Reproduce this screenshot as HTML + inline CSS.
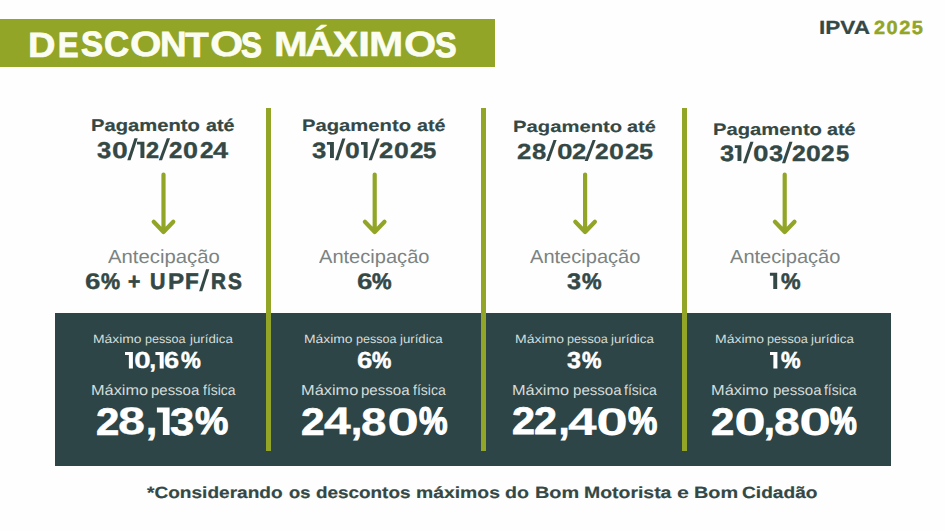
<!DOCTYPE html>
<html><head><meta charset="utf-8"><style>
html,body{margin:0;padding:0;}
body{width:945px;height:531px;position:relative;overflow:hidden;background:#fefefe;font-family:"Liberation Sans",sans-serif;}
.t{position:absolute;white-space:nowrap;transform-origin:0 0;text-rendering:geometricPrecision;}
.bar{position:absolute;left:0;top:19px;width:495px;height:48px;background:#92a526;}
.box{position:absolute;left:55px;top:313px;width:836px;height:153px;background:#2d4546;}
.vl{position:absolute;top:108px;width:5px;height:343px;background:#92a526;}
</style></head><body>
<div class="bar"></div>
<div class="box"></div>
<div class="vl" style="left:266px"></div>
<div class="vl" style="left:480.5px"></div>
<div class="vl" style="left:682px"></div>
<svg width="945" height="531" style="position:absolute;left:0;top:0" fill="none" stroke="#92a526" stroke-width="4.2" stroke-linecap="round" stroke-linejoin="round">
<path d="M163.5 174.5 V231.5 M153.7 221.8 L163.5 232 L173.3 221.8"/><path d="M374.7 174.5 V231.5 M364.9 221.8 L374.7 232 L384.5 221.8"/><path d="M585.1 174.5 V231.5 M575.3000000000001 221.8 L585.1 232 L594.9 221.8"/><path d="M784.7 174.5 V231.5 M774.9000000000001 221.8 L784.7 232 L794.5 221.8"/>
</svg>
<div class="t" style="left:28.34px;top:27.82px;font-size:35.06px;line-height:35.06px;font-weight:bold;color:#fbfdf2;transform:scaleX(1.0848);text-rendering:geometricPrecision;-webkit-text-stroke:0.66px currentColor;">D</div>
<div class="t" style="left:58.38px;top:27.78px;font-size:35.06px;line-height:35.06px;font-weight:bold;color:#fbfdf2;transform:scaleX(0.8732);text-rendering:geometricPrecision;-webkit-text-stroke:1.15px currentColor;">E</div>
<div class="t" style="left:80.73px;top:26.79px;font-size:35.06px;line-height:35.06px;font-weight:bold;color:#fbfdf2;transform:scaleX(0.9420);text-rendering:geometricPrecision;-webkit-text-stroke:0.99px currentColor;">S</div>
<div class="t" style="left:104.13px;top:26.79px;font-size:35.06px;line-height:35.06px;font-weight:bold;color:#fbfdf2;transform:scaleX(0.9932);text-rendering:geometricPrecision;-webkit-text-stroke:0.89px currentColor;">C</div>
<div class="t" style="left:129.59px;top:27.16px;font-size:35.06px;line-height:35.06px;font-weight:bold;color:#fbfdf2;transform:scaleX(1.1572);text-rendering:geometricPrecision;-webkit-text-stroke:0.53px currentColor;">O</div>
<div class="t" style="left:159.57px;top:26.79px;font-size:35.06px;line-height:35.06px;font-weight:bold;color:#fbfdf2;transform:scaleX(1.0497);text-rendering:geometricPrecision;-webkit-text-stroke:0.75px currentColor;">N</div>
<div class="t" style="left:185.12px;top:27.82px;font-size:35.06px;line-height:35.06px;font-weight:bold;color:#fbfdf2;transform:scaleX(1.1115);text-rendering:geometricPrecision;-webkit-text-stroke:0.63px currentColor;">T</div>
<div class="t" style="left:209.83px;top:27.16px;font-size:35.06px;line-height:35.06px;font-weight:bold;color:#fbfdf2;transform:scaleX(1.2240);text-rendering:geometricPrecision;-webkit-text-stroke:0.37px currentColor;">O</div>
<div class="t" style="left:240.51px;top:27.78px;font-size:35.06px;line-height:35.06px;font-weight:bold;color:#fbfdf2;transform:scaleX(0.8959);text-rendering:geometricPrecision;-webkit-text-stroke:1.11px currentColor;">S</div>
<div class="t" style="left:273.52px;top:27.16px;font-size:35.06px;line-height:35.06px;font-weight:bold;color:#fbfdf2;transform:scaleX(1.1575);text-rendering:geometricPrecision;-webkit-text-stroke:0.52px currentColor;">M</div>
<div class="t" style="left:305.45px;top:27.16px;font-size:35.06px;line-height:35.06px;font-weight:bold;color:#fbfdf2;transform:scaleX(1.1504);text-rendering:geometricPrecision;-webkit-text-stroke:0.50px currentColor;">Á</div>
<div class="t" style="left:333.24px;top:26.79px;font-size:35.06px;line-height:35.06px;font-weight:bold;color:#fbfdf2;transform:scaleX(1.0582);text-rendering:geometricPrecision;-webkit-text-stroke:0.77px currentColor;">X</div>
<div class="t" style="left:358.44px;top:27.16px;font-size:35.06px;line-height:35.06px;font-weight:bold;color:#fbfdf2;transform:scaleX(1.2614);text-rendering:geometricPrecision;-webkit-text-stroke:0.39px currentColor;">I</div>
<div class="t" style="left:369.49px;top:27.16px;font-size:35.06px;line-height:35.06px;font-weight:bold;color:#fbfdf2;transform:scaleX(1.1738);text-rendering:geometricPrecision;-webkit-text-stroke:0.47px currentColor;">M</div>
<div class="t" style="left:403.54px;top:27.16px;font-size:35.06px;line-height:35.06px;font-weight:bold;color:#fbfdf2;transform:scaleX(1.1837);text-rendering:geometricPrecision;-webkit-text-stroke:0.45px currentColor;">O</div>
<div class="t" style="left:435.17px;top:27.78px;font-size:35.06px;line-height:35.06px;font-weight:bold;color:#fbfdf2;transform:scaleX(0.9238);text-rendering:geometricPrecision;-webkit-text-stroke:1.05px currentColor;">S</div>
<div class="t" style="left:818.52px;top:19.22px;font-size:19.07px;line-height:19.07px;font-weight:bold;color:#344846;transform:scaleX(1.1847);text-rendering:geometricPrecision;-webkit-text-stroke:0.23px currentColor;">IPVA</div>
<div class="t" style="left:874.39px;top:18.72px;font-size:19.07px;line-height:19.07px;font-weight:bold;color:#92a526;transform:scaleX(1.0500);text-rendering:geometricPrecision;-webkit-text-stroke:0.41px currentColor;letter-spacing:1.374px;">2025</div>
<div class="t" style="left:91.33px;top:117.80px;font-size:16.96px;line-height:16.96px;font-weight:bold;color:#344846;transform:scaleX(1.1915);text-rendering:geometricPrecision;-webkit-text-stroke:0.19px currentColor;">Pagamento</div>
<div class="t" style="left:205.57px;top:117.80px;font-size:16.96px;line-height:16.96px;font-weight:bold;color:#344846;transform:scaleX(1.1586);text-rendering:geometricPrecision;-webkit-text-stroke:0.23px currentColor;">até</div>
<div class="t" style="left:302.39px;top:117.59px;font-size:16.64px;line-height:16.64px;font-weight:bold;color:#344846;transform:scaleX(1.2162);text-rendering:geometricPrecision;-webkit-text-stroke:0.15px currentColor;">Pagamento</div>
<div class="t" style="left:416.71px;top:117.59px;font-size:16.64px;line-height:16.64px;font-weight:bold;color:#344846;transform:scaleX(1.1860);text-rendering:geometricPrecision;-webkit-text-stroke:0.18px currentColor;">até</div>
<div class="t" style="left:513.20px;top:118.71px;font-size:16.19px;line-height:16.19px;font-weight:bold;color:#344846;transform:scaleX(1.2506);text-rendering:geometricPrecision;-webkit-text-stroke:0.11px currentColor;">Pagamento</div>
<div class="t" style="left:627.31px;top:118.71px;font-size:16.19px;line-height:16.19px;font-weight:bold;color:#344846;transform:scaleX(1.2250);text-rendering:geometricPrecision;-webkit-text-stroke:0.14px currentColor;">até</div>
<div class="t" style="left:713.27px;top:121.64px;font-size:16.59px;line-height:16.59px;font-weight:bold;color:#344846;transform:scaleX(1.2195);text-rendering:geometricPrecision;-webkit-text-stroke:0.15px currentColor;">Pagamento</div>
<div class="t" style="left:827.41px;top:121.64px;font-size:16.59px;line-height:16.59px;font-weight:bold;color:#344846;transform:scaleX(1.1917);text-rendering:geometricPrecision;-webkit-text-stroke:0.19px currentColor;">até</div>
<div class="t" style="left:97.34px;top:138.69px;font-size:22.86px;line-height:22.86px;font-weight:bold;color:#344846;transform:scaleX(1.1181);text-rendering:geometricPrecision;-webkit-text-stroke:0.40px currentColor;">3</div>
<div class="t" style="left:112.49px;top:138.53px;font-size:22.86px;line-height:22.86px;font-weight:bold;color:#344846;transform:scaleX(1.2443);text-rendering:geometricPrecision;-webkit-text-stroke:0.21px currentColor;">0</div>
<div class="t" style="left:146.44px;top:138.69px;font-size:22.86px;line-height:22.86px;font-weight:bold;color:#344846;transform:scaleX(1.0293);text-rendering:geometricPrecision;-webkit-text-stroke:0.48px currentColor;">2</div>
<div class="t" style="left:169.30px;top:138.69px;font-size:22.86px;line-height:22.86px;font-weight:bold;color:#344846;transform:scaleX(1.0515);text-rendering:geometricPrecision;-webkit-text-stroke:0.49px currentColor;">2</div>
<div class="t" style="left:183.23px;top:138.69px;font-size:22.86px;line-height:22.86px;font-weight:bold;color:#344846;transform:scaleX(1.1783);text-rendering:geometricPrecision;-webkit-text-stroke:0.30px currentColor;">0</div>
<div class="t" style="left:199.58px;top:138.69px;font-size:22.86px;line-height:22.86px;font-weight:bold;color:#344846;transform:scaleX(1.0614);text-rendering:geometricPrecision;-webkit-text-stroke:0.45px currentColor;">2</div>
<div class="t" style="left:213.41px;top:138.69px;font-size:22.86px;line-height:22.86px;font-weight:bold;color:#344846;transform:scaleX(1.1864);text-rendering:geometricPrecision;-webkit-text-stroke:0.27px currentColor;">4</div>
<div class="t" style="left:311.58px;top:139.73px;font-size:22.26px;line-height:22.26px;font-weight:bold;color:#344846;transform:scaleX(1.1536);text-rendering:geometricPrecision;-webkit-text-stroke:0.33px currentColor;">3</div>
<div class="t" style="left:344.78px;top:139.73px;font-size:22.26px;line-height:22.26px;font-weight:bold;color:#344846;transform:scaleX(1.1935);text-rendering:geometricPrecision;-webkit-text-stroke:0.28px currentColor;">0</div>
<div class="t" style="left:378.87px;top:139.73px;font-size:22.26px;line-height:22.26px;font-weight:bold;color:#344846;transform:scaleX(1.1521);text-rendering:geometricPrecision;-webkit-text-stroke:0.34px currentColor;">2</div>
<div class="t" style="left:393.78px;top:139.73px;font-size:22.26px;line-height:22.26px;font-weight:bold;color:#344846;transform:scaleX(1.1935);text-rendering:geometricPrecision;-webkit-text-stroke:0.28px currentColor;">0</div>
<div class="t" style="left:409.63px;top:139.73px;font-size:22.26px;line-height:22.26px;font-weight:bold;color:#344846;transform:scaleX(1.0906);text-rendering:geometricPrecision;-webkit-text-stroke:0.42px currentColor;">2</div>
<div class="t" style="left:423.04px;top:139.73px;font-size:22.26px;line-height:22.26px;font-weight:bold;color:#344846;transform:scaleX(1.0661);text-rendering:geometricPrecision;-webkit-text-stroke:0.44px currentColor;">5</div>
<div class="t" style="left:516.80px;top:140.81px;font-size:21.88px;line-height:21.88px;font-weight:bold;color:#344846;transform:scaleX(1.1787);text-rendering:geometricPrecision;-webkit-text-stroke:0.28px currentColor;">2</div>
<div class="t" style="left:531.58px;top:140.81px;font-size:21.88px;line-height:21.88px;font-weight:bold;color:#344846;transform:scaleX(1.1724);text-rendering:geometricPrecision;-webkit-text-stroke:0.27px currentColor;">8</div>
<div class="t" style="left:556.93px;top:140.65px;font-size:21.88px;line-height:21.88px;font-weight:bold;color:#344846;transform:scaleX(1.2861);text-rendering:geometricPrecision;-webkit-text-stroke:0.13px currentColor;">0</div>
<div class="t" style="left:571.71px;top:140.81px;font-size:21.88px;line-height:21.88px;font-weight:bold;color:#344846;transform:scaleX(1.1785);text-rendering:geometricPrecision;-webkit-text-stroke:0.29px currentColor;">2</div>
<div class="t" style="left:595.38px;top:140.81px;font-size:21.88px;line-height:21.88px;font-weight:bold;color:#344846;transform:scaleX(1.1225);text-rendering:geometricPrecision;-webkit-text-stroke:0.34px currentColor;">2</div>
<div class="t" style="left:609.26px;top:140.65px;font-size:21.88px;line-height:21.88px;font-weight:bold;color:#344846;transform:scaleX(1.2255);text-rendering:geometricPrecision;-webkit-text-stroke:0.20px currentColor;">0</div>
<div class="t" style="left:624.80px;top:140.81px;font-size:21.88px;line-height:21.88px;font-weight:bold;color:#344846;transform:scaleX(1.1787);text-rendering:geometricPrecision;-webkit-text-stroke:0.28px currentColor;">2</div>
<div class="t" style="left:638.51px;top:140.81px;font-size:21.88px;line-height:21.88px;font-weight:bold;color:#344846;transform:scaleX(1.1487);text-rendering:geometricPrecision;-webkit-text-stroke:0.32px currentColor;">5</div>
<div class="t" style="left:719.56px;top:142.80px;font-size:22.26px;line-height:22.26px;font-weight:bold;color:#344846;transform:scaleX(1.1393);text-rendering:geometricPrecision;-webkit-text-stroke:0.35px currentColor;">3</div>
<div class="t" style="left:753.06px;top:142.64px;font-size:22.26px;line-height:22.26px;font-weight:bold;color:#344846;transform:scaleX(1.2566);text-rendering:geometricPrecision;-webkit-text-stroke:0.19px currentColor;">0</div>
<div class="t" style="left:768.81px;top:142.80px;font-size:22.26px;line-height:22.26px;font-weight:bold;color:#344846;transform:scaleX(1.1393);text-rendering:geometricPrecision;-webkit-text-stroke:0.35px currentColor;">3</div>
<div class="t" style="left:791.69px;top:142.80px;font-size:22.26px;line-height:22.26px;font-weight:bold;color:#344846;transform:scaleX(1.1132);text-rendering:geometricPrecision;-webkit-text-stroke:0.39px currentColor;">2</div>
<div class="t" style="left:805.78px;top:142.80px;font-size:22.26px;line-height:22.26px;font-weight:bold;color:#344846;transform:scaleX(1.1935);text-rendering:geometricPrecision;-webkit-text-stroke:0.28px currentColor;">0</div>
<div class="t" style="left:821.36px;top:142.80px;font-size:22.26px;line-height:22.26px;font-weight:bold;color:#344846;transform:scaleX(1.0940);text-rendering:geometricPrecision;-webkit-text-stroke:0.41px currentColor;">2</div>
<div class="t" style="left:835.50px;top:142.80px;font-size:22.26px;line-height:22.26px;font-weight:bold;color:#344846;transform:scaleX(1.0627);text-rendering:geometricPrecision;-webkit-text-stroke:0.45px currentColor;">5</div>
<div class="t" style="left:107.79px;top:247.50px;font-size:19.01px;line-height:19.01px;font-weight:normal;color:#7b8382;transform:scaleX(1.0682);text-rendering:geometricPrecision;">Antecipação</div>
<div class="t" style="left:319.38px;top:247.50px;font-size:19.01px;line-height:19.01px;font-weight:normal;color:#7b8382;transform:scaleX(1.0562);text-rendering:geometricPrecision;">Antecipação</div>
<div class="t" style="left:529.97px;top:247.50px;font-size:19.01px;line-height:19.01px;font-weight:normal;color:#7b8382;transform:scaleX(1.0558);text-rendering:geometricPrecision;">Antecipação</div>
<div class="t" style="left:729.97px;top:247.50px;font-size:19.01px;line-height:19.01px;font-weight:normal;color:#7b8382;transform:scaleX(1.0558);text-rendering:geometricPrecision;">Antecipação</div>
<div class="t" style="left:85.32px;top:269.65px;font-size:22.67px;line-height:22.67px;font-weight:bold;color:#344846;transform:scaleX(1.2272);text-rendering:geometricPrecision;-webkit-text-stroke:0.23px currentColor;">6</div>
<div class="t" style="left:101.21px;top:269.82px;font-size:22.67px;line-height:22.67px;font-weight:bold;color:#344846;transform:scaleX(0.9464);text-rendering:geometricPrecision;-webkit-text-stroke:0.60px currentColor;">%</div>
<div class="t" style="left:128.49px;top:269.82px;font-size:22.67px;line-height:22.67px;font-weight:bold;color:#344846;transform:scaleX(0.9326);text-rendering:geometricPrecision;-webkit-text-stroke:0.64px currentColor;">+</div>
<div class="t" style="left:149.98px;top:269.82px;font-size:22.67px;line-height:22.67px;font-weight:bold;color:#344846;transform:scaleX(0.9399);text-rendering:geometricPrecision;-webkit-text-stroke:0.66px currentColor;">U</div>
<div class="t" style="left:167.74px;top:269.82px;font-size:22.67px;line-height:22.67px;font-weight:bold;color:#344846;transform:scaleX(1.0650);text-rendering:geometricPrecision;-webkit-text-stroke:0.47px currentColor;">P</div>
<div class="t" style="left:184.83px;top:269.82px;font-size:22.67px;line-height:22.67px;font-weight:bold;color:#344846;transform:scaleX(0.9922);text-rendering:geometricPrecision;-webkit-text-stroke:0.57px currentColor;">F</div>
<div class="t" style="left:211.48px;top:269.82px;font-size:22.67px;line-height:22.67px;font-weight:bold;color:#344846;transform:scaleX(0.9104);text-rendering:geometricPrecision;-webkit-text-stroke:0.70px currentColor;">R</div>
<div class="t" style="left:227.51px;top:269.82px;font-size:22.67px;line-height:22.67px;font-weight:bold;color:#344846;transform:scaleX(0.9158);text-rendering:geometricPrecision;-webkit-text-stroke:0.69px currentColor;">S</div>
<div class="t" style="left:356.82px;top:269.65px;font-size:22.67px;line-height:22.67px;font-weight:bold;color:#344846;transform:scaleX(1.2272);text-rendering:geometricPrecision;-webkit-text-stroke:0.23px currentColor;">6</div>
<div class="t" style="left:372.20px;top:269.82px;font-size:22.67px;line-height:22.67px;font-weight:bold;color:#344846;transform:scaleX(0.9711);text-rendering:geometricPrecision;-webkit-text-stroke:0.57px currentColor;">%</div>
<div class="t" style="left:567.19px;top:269.82px;font-size:22.67px;line-height:22.67px;font-weight:bold;color:#344846;transform:scaleX(1.1133);text-rendering:geometricPrecision;-webkit-text-stroke:0.41px currentColor;">3</div>
<div class="t" style="left:582.20px;top:269.82px;font-size:22.67px;line-height:22.67px;font-weight:bold;color:#344846;transform:scaleX(0.9711);text-rendering:geometricPrecision;-webkit-text-stroke:0.57px currentColor;">%</div>
<div class="t" style="left:780.57px;top:269.82px;font-size:22.67px;line-height:22.67px;font-weight:bold;color:#344846;transform:scaleX(0.9704);text-rendering:geometricPrecision;-webkit-text-stroke:0.57px currentColor;">%</div>
<div class="t" style="left:93.36px;top:332.54px;font-size:12.03px;line-height:12.03px;font-weight:normal;color:#d5dcda;transform:scaleX(1.1548);text-rendering:geometricPrecision;">Máximo</div>
<div class="t" style="left:145.41px;top:332.54px;font-size:12.03px;line-height:12.03px;font-weight:normal;color:#d5dcda;transform:scaleX(1.0459);text-rendering:geometricPrecision;">pessoa</div>
<div class="t" style="left:189.63px;top:332.54px;font-size:12.03px;line-height:12.03px;font-weight:normal;color:#d5dcda;transform:scaleX(1.1044);text-rendering:geometricPrecision;">jurídica</div>
<div class="t" style="left:304.36px;top:332.54px;font-size:12.03px;line-height:12.03px;font-weight:normal;color:#d5dcda;transform:scaleX(1.1552);text-rendering:geometricPrecision;">Máximo</div>
<div class="t" style="left:356.47px;top:332.54px;font-size:12.03px;line-height:12.03px;font-weight:normal;color:#d5dcda;transform:scaleX(1.0481);text-rendering:geometricPrecision;">pessoa</div>
<div class="t" style="left:400.39px;top:332.54px;font-size:12.03px;line-height:12.03px;font-weight:normal;color:#d5dcda;transform:scaleX(1.1001);text-rendering:geometricPrecision;">jurídica</div>
<div class="t" style="left:514.61px;top:332.54px;font-size:12.03px;line-height:12.03px;font-weight:normal;color:#d5dcda;transform:scaleX(1.1635);text-rendering:geometricPrecision;">Máximo</div>
<div class="t" style="left:567.33px;top:332.54px;font-size:12.03px;line-height:12.03px;font-weight:normal;color:#d5dcda;transform:scaleX(1.0528);text-rendering:geometricPrecision;">pessoa</div>
<div class="t" style="left:611.49px;top:332.54px;font-size:12.03px;line-height:12.03px;font-weight:normal;color:#d5dcda;transform:scaleX(1.1054);text-rendering:geometricPrecision;">jurídica</div>
<div class="t" style="left:714.61px;top:332.54px;font-size:12.03px;line-height:12.03px;font-weight:normal;color:#d5dcda;transform:scaleX(1.1635);text-rendering:geometricPrecision;">Máximo</div>
<div class="t" style="left:767.33px;top:332.54px;font-size:12.03px;line-height:12.03px;font-weight:normal;color:#d5dcda;transform:scaleX(1.0528);text-rendering:geometricPrecision;">pessoa</div>
<div class="t" style="left:811.49px;top:332.54px;font-size:12.03px;line-height:12.03px;font-weight:normal;color:#d5dcda;transform:scaleX(1.1054);text-rendering:geometricPrecision;">jurídica</div>
<div class="t" style="left:133.94px;top:348.82px;font-size:23.14px;line-height:23.14px;font-weight:bold;color:#ffffff;transform:scaleX(1.3137);text-rendering:geometricPrecision;-webkit-text-stroke:0.10px currentColor;">0</div>
<div class="t" style="left:149.57px;top:348.65px;font-size:23.14px;line-height:23.14px;font-weight:bold;color:#ffffff;transform:scaleX(1.0000);text-rendering:geometricPrecision;-webkit-text-stroke:0.57px currentColor;">,</div>
<div class="t" style="left:164.36px;top:348.65px;font-size:23.14px;line-height:23.14px;font-weight:bold;color:#ffffff;transform:scaleX(1.1813);text-rendering:geometricPrecision;-webkit-text-stroke:0.27px currentColor;">6</div>
<div class="t" style="left:180.94px;top:348.65px;font-size:23.14px;line-height:23.14px;font-weight:bold;color:#ffffff;transform:scaleX(0.9614);text-rendering:geometricPrecision;-webkit-text-stroke:0.62px currentColor;">%</div>
<div class="t" style="left:356.66px;top:348.65px;font-size:23.14px;line-height:23.14px;font-weight:bold;color:#ffffff;transform:scaleX(1.1960);text-rendering:geometricPrecision;-webkit-text-stroke:0.28px currentColor;">6</div>
<div class="t" style="left:372.24px;top:348.65px;font-size:23.14px;line-height:23.14px;font-weight:bold;color:#ffffff;transform:scaleX(0.9367);text-rendering:geometricPrecision;-webkit-text-stroke:0.63px currentColor;">%</div>
<div class="t" style="left:567.22px;top:348.65px;font-size:23.14px;line-height:23.14px;font-weight:bold;color:#ffffff;transform:scaleX(1.0873);text-rendering:geometricPrecision;-webkit-text-stroke:0.45px currentColor;">3</div>
<div class="t" style="left:582.19px;top:348.65px;font-size:23.14px;line-height:23.14px;font-weight:bold;color:#ffffff;transform:scaleX(0.9424);text-rendering:geometricPrecision;-webkit-text-stroke:0.62px currentColor;">%</div>
<div class="t" style="left:780.55px;top:348.65px;font-size:23.14px;line-height:23.14px;font-weight:bold;color:#ffffff;transform:scaleX(0.9493);text-rendering:geometricPrecision;-webkit-text-stroke:0.62px currentColor;">%</div>
<div class="t" style="left:90.67px;top:383.67px;font-size:14.49px;line-height:14.49px;font-weight:normal;color:#d5dcda;transform:scaleX(1.1269);text-rendering:geometricPrecision;">Máximo</div>
<div class="t" style="left:150.65px;top:383.67px;font-size:14.49px;line-height:14.49px;font-weight:normal;color:#d5dcda;transform:scaleX(1.0320);text-rendering:geometricPrecision;">pessoa</div>
<div class="t" style="left:202.75px;top:383.67px;font-size:14.49px;line-height:14.49px;font-weight:normal;color:#d5dcda;transform:scaleX(0.9634);text-rendering:geometricPrecision;">física</div>
<div class="t" style="left:301.15px;top:383.67px;font-size:14.49px;line-height:14.49px;font-weight:normal;color:#d5dcda;transform:scaleX(1.1303);text-rendering:geometricPrecision;">Máximo</div>
<div class="t" style="left:361.47px;top:383.67px;font-size:14.49px;line-height:14.49px;font-weight:normal;color:#d5dcda;transform:scaleX(1.0396);text-rendering:geometricPrecision;">pessoa</div>
<div class="t" style="left:413.48px;top:383.67px;font-size:14.49px;line-height:14.49px;font-weight:normal;color:#d5dcda;transform:scaleX(0.9697);text-rendering:geometricPrecision;">física</div>
<div class="t" style="left:511.67px;top:383.67px;font-size:14.49px;line-height:14.49px;font-weight:normal;color:#d5dcda;transform:scaleX(1.1257);text-rendering:geometricPrecision;">Máximo</div>
<div class="t" style="left:572.59px;top:383.67px;font-size:14.49px;line-height:14.49px;font-weight:normal;color:#d5dcda;transform:scaleX(1.0413);text-rendering:geometricPrecision;">pessoa</div>
<div class="t" style="left:624.47px;top:383.67px;font-size:14.49px;line-height:14.49px;font-weight:normal;color:#d5dcda;transform:scaleX(0.9670);text-rendering:geometricPrecision;">física</div>
<div class="t" style="left:711.42px;top:383.67px;font-size:14.49px;line-height:14.49px;font-weight:normal;color:#d5dcda;transform:scaleX(1.1301);text-rendering:geometricPrecision;">Máximo</div>
<div class="t" style="left:772.51px;top:383.67px;font-size:14.49px;line-height:14.49px;font-weight:normal;color:#d5dcda;transform:scaleX(1.0388);text-rendering:geometricPrecision;">pessoa</div>
<div class="t" style="left:824.19px;top:383.67px;font-size:14.49px;line-height:14.49px;font-weight:normal;color:#d5dcda;transform:scaleX(0.9622);text-rendering:geometricPrecision;">física</div>
<div class="t" style="left:96.47px;top:403.52px;font-size:38.43px;line-height:38.43px;font-weight:bold;color:#ffffff;transform:scaleX(1.0917);text-rendering:geometricPrecision;-webkit-text-stroke:0.71px currentColor;">2</div>
<div class="t" style="left:118.34px;top:403.19px;font-size:38.43px;line-height:38.43px;font-weight:bold;color:#ffffff;transform:scaleX(1.2635);text-rendering:geometricPrecision;-webkit-text-stroke:0.29px currentColor;">8</div>
<div class="t" style="left:146.35px;top:402.83px;font-size:38.43px;line-height:38.43px;font-weight:bold;color:#ffffff;transform:scaleX(1.0000);text-rendering:geometricPrecision;-webkit-text-stroke:0.96px currentColor;">,</div>
<div class="t" style="left:170.12px;top:403.52px;font-size:38.43px;line-height:38.43px;font-weight:bold;color:#ffffff;transform:scaleX(1.1322);text-rendering:geometricPrecision;-webkit-text-stroke:0.61px currentColor;">3</div>
<div class="t" style="left:195.40px;top:402.83px;font-size:38.43px;line-height:38.43px;font-weight:bold;color:#ffffff;transform:scaleX(0.9767);text-rendering:geometricPrecision;-webkit-text-stroke:1.01px currentColor;">%</div>
<div class="t" style="left:300.55px;top:403.52px;font-size:38.43px;line-height:38.43px;font-weight:bold;color:#ffffff;transform:scaleX(1.1043);text-rendering:geometricPrecision;-webkit-text-stroke:0.67px currentColor;">2</div>
<div class="t" style="left:324.13px;top:403.19px;font-size:38.43px;line-height:38.43px;font-weight:bold;color:#ffffff;transform:scaleX(1.2537);text-rendering:geometricPrecision;-webkit-text-stroke:0.35px currentColor;">4</div>
<div class="t" style="left:351.32px;top:402.83px;font-size:38.43px;line-height:38.43px;font-weight:bold;color:#ffffff;transform:scaleX(1.0000);text-rendering:geometricPrecision;-webkit-text-stroke:0.96px currentColor;">,</div>
<div class="t" style="left:360.84px;top:403.52px;font-size:38.43px;line-height:38.43px;font-weight:bold;color:#ffffff;transform:scaleX(1.1899);text-rendering:geometricPrecision;-webkit-text-stroke:0.41px currentColor;">8</div>
<div class="t" style="left:386.95px;top:403.70px;font-size:38.43px;line-height:38.43px;font-weight:bold;color:#ffffff;transform:scaleX(1.5073);text-rendering:geometricPrecision;">0</div>
<div class="t" style="left:418.76px;top:402.99px;font-size:38.43px;line-height:38.43px;font-weight:bold;color:#ffffff;transform:scaleX(0.8352);text-rendering:geometricPrecision;-webkit-text-stroke:1.37px currentColor;">%</div>
<div class="t" style="left:512.49px;top:402.83px;font-size:38.43px;line-height:38.43px;font-weight:bold;color:#ffffff;transform:scaleX(1.0775);text-rendering:geometricPrecision;-webkit-text-stroke:0.78px currentColor;">2</div>
<div class="t" style="left:534.42px;top:402.83px;font-size:38.43px;line-height:38.43px;font-weight:bold;color:#ffffff;transform:scaleX(1.0747);text-rendering:geometricPrecision;-webkit-text-stroke:0.76px currentColor;">2</div>
<div class="t" style="left:558.87px;top:402.83px;font-size:38.43px;line-height:38.43px;font-weight:bold;color:#ffffff;transform:scaleX(1.0000);text-rendering:geometricPrecision;-webkit-text-stroke:0.96px currentColor;">,</div>
<div class="t" style="left:567.86px;top:403.70px;font-size:38.43px;line-height:38.43px;font-weight:bold;color:#ffffff;transform:scaleX(1.3424);text-rendering:geometricPrecision;-webkit-text-stroke:0.16px currentColor;">4</div>
<div class="t" style="left:595.58px;top:403.70px;font-size:38.43px;line-height:38.43px;font-weight:bold;color:#ffffff;transform:scaleX(1.5022);text-rendering:geometricPrecision;">0</div>
<div class="t" style="left:627.67px;top:402.99px;font-size:38.43px;line-height:38.43px;font-weight:bold;color:#ffffff;transform:scaleX(0.8578);text-rendering:geometricPrecision;-webkit-text-stroke:1.31px currentColor;">%</div>
<div class="t" style="left:711.47px;top:403.52px;font-size:38.43px;line-height:38.43px;font-weight:bold;color:#ffffff;transform:scaleX(1.0917);text-rendering:geometricPrecision;-webkit-text-stroke:0.71px currentColor;">2</div>
<div class="t" style="left:734.23px;top:403.70px;font-size:38.43px;line-height:38.43px;font-weight:bold;color:#ffffff;transform:scaleX(1.4983);text-rendering:geometricPrecision;">0</div>
<div class="t" style="left:763.91px;top:402.83px;font-size:38.43px;line-height:38.43px;font-weight:bold;color:#ffffff;transform:scaleX(1.0000);text-rendering:geometricPrecision;-webkit-text-stroke:0.96px currentColor;">,</div>
<div class="t" style="left:773.52px;top:403.52px;font-size:38.43px;line-height:38.43px;font-weight:bold;color:#ffffff;transform:scaleX(1.2083);text-rendering:geometricPrecision;-webkit-text-stroke:0.42px currentColor;">8</div>
<div class="t" style="left:798.82px;top:403.70px;font-size:38.43px;line-height:38.43px;font-weight:bold;color:#ffffff;transform:scaleX(1.5073);text-rendering:geometricPrecision;">0</div>
<div class="t" style="left:830.28px;top:402.99px;font-size:38.43px;line-height:38.43px;font-weight:bold;color:#ffffff;transform:scaleX(0.7821);text-rendering:geometricPrecision;-webkit-text-stroke:1.51px currentColor;">%</div>
<div class="t" style="left:146.57px;top:484.51px;font-size:16.19px;line-height:16.19px;font-weight:bold;color:#344846;transform:scaleX(1.1779);text-rendering:geometricPrecision;-webkit-text-stroke:0.19px currentColor;">*Considerando</div>
<div class="t" style="left:288.81px;top:484.66px;font-size:16.19px;line-height:16.19px;font-weight:bold;color:#344846;transform:scaleX(1.1270);text-rendering:geometricPrecision;-webkit-text-stroke:0.28px currentColor;">os</div>
<div class="t" style="left:315.81px;top:484.51px;font-size:16.19px;line-height:16.19px;font-weight:bold;color:#344846;transform:scaleX(1.1668);text-rendering:geometricPrecision;-webkit-text-stroke:0.21px currentColor;">descontos</div>
<div class="t" style="left:416.32px;top:484.51px;font-size:16.19px;line-height:16.19px;font-weight:bold;color:#344846;transform:scaleX(1.1958);text-rendering:geometricPrecision;-webkit-text-stroke:0.17px currentColor;">máximos</div>
<div class="t" style="left:505.36px;top:484.51px;font-size:16.19px;line-height:16.19px;font-weight:bold;color:#344846;transform:scaleX(1.2130);text-rendering:geometricPrecision;-webkit-text-stroke:0.15px currentColor;">do</div>
<div class="t" style="left:534.55px;top:484.51px;font-size:16.19px;line-height:16.19px;font-weight:bold;color:#344846;transform:scaleX(1.2294);text-rendering:geometricPrecision;-webkit-text-stroke:0.15px currentColor;">Bom</div>
<div class="t" style="left:583.76px;top:484.51px;font-size:16.19px;line-height:16.19px;font-weight:bold;color:#344846;transform:scaleX(1.2001);text-rendering:geometricPrecision;-webkit-text-stroke:0.17px currentColor;">Motorista</div>
<div class="t" style="left:677.34px;top:484.51px;font-size:16.19px;line-height:16.19px;font-weight:bold;color:#344846;transform:scaleX(1.3251);text-rendering:geometricPrecision;-webkit-text-stroke:0.06px currentColor;">e</div>
<div class="t" style="left:694.01px;top:484.51px;font-size:16.19px;line-height:16.19px;font-weight:bold;color:#344846;transform:scaleX(1.2285);text-rendering:geometricPrecision;-webkit-text-stroke:0.15px currentColor;">Bom</div>
<div class="t" style="left:742.20px;top:484.51px;font-size:16.19px;line-height:16.19px;font-weight:bold;color:#344846;transform:scaleX(1.1818);text-rendering:geometricPrecision;-webkit-text-stroke:0.19px currentColor;">Cidadão</div>
<svg width="945" height="531" style="position:absolute;left:0;top:0"><polygon fill="#344846" points="137.00,141.70 144.40,141.70 144.40,157.90 140.43,157.90 140.43,144.58 137.00,144.58"/><polygon fill="#344846" points="326.90,142.00 333.90,142.00 333.90,157.90 330.00,157.90 330.00,144.83 326.90,144.83"/><polygon fill="#344846" points="361.00,142.00 367.60,142.00 367.60,157.90 363.70,157.90 363.70,144.83 361.00,144.83"/><polygon fill="#344846" points="734.80,145.20 741.40,145.20 741.40,161.10 737.50,161.10 737.50,148.03 734.80,148.03"/><polygon fill="#344846" points="769.90,272.80 777.20,272.80 777.20,288.90 773.26,288.90 773.26,275.67 769.90,275.67"/><polygon fill="#ffffff" points="125.00,352.10 132.90,352.10 132.90,368.50 128.88,368.50 128.88,355.02 125.00,355.02"/><polygon fill="#ffffff" points="155.40,352.10 163.70,352.10 163.70,368.50 159.68,368.50 159.68,355.02 155.40,355.02"/><polygon fill="#ffffff" points="770.00,352.10 777.40,352.10 777.40,368.50 773.38,368.50 773.38,355.02 770.00,355.02"/><polygon fill="#ffffff" points="156.90,407.50 169.60,407.50 169.60,435.00 162.86,435.00 162.86,412.39 156.90,412.39"/><polygon fill="#344846" points="127.30,160.17 130.54,160.17 137.70,138.14 134.46,138.14"/><polygon fill="#344846" points="158.80,160.17 162.04,160.17 170.10,138.14 166.86,138.14"/><polygon fill="#344846" points="335.00,160.13 338.18,160.13 345.40,138.50 342.22,138.50"/><polygon fill="#344846" points="368.70,160.13 371.88,160.13 379.70,138.50 376.52,138.50"/><polygon fill="#344846" points="546.10,160.96 549.18,160.96 556.60,140.01 553.52,140.01"/><polygon fill="#344846" points="584.70,160.96 587.78,160.96 595.70,140.01 592.62,140.01"/><polygon fill="#344846" points="743.00,163.33 746.18,163.33 753.50,141.70 750.32,141.70"/><polygon fill="#344846" points="782.00,163.33 785.18,163.33 792.50,141.70 789.32,141.70"/><polygon fill="#344846" points="199.10,291.15 202.32,291.15 209.30,269.26 206.08,269.26"/></svg>
</body></html>
